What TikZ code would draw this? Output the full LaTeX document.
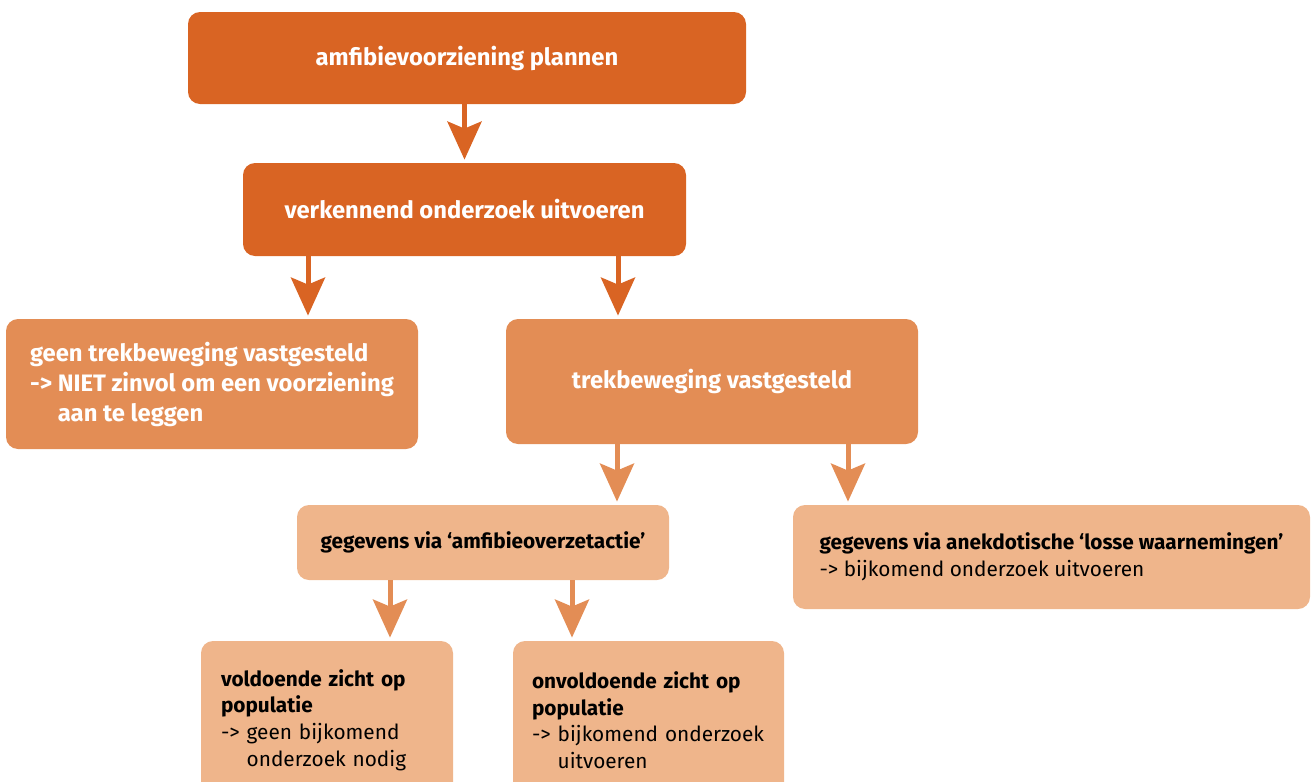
\documentclass[tikz,border=0pt]{standalone}
\usepackage{fontspec}
\setmainfont{Fira Sans}
\usetikzlibrary{arrows.meta}

\definecolor{oranjedonker}{RGB}{217,100,35}
\definecolor{oranjemidden}{RGB}{227,141,85}
\definecolor{oranjelicht}{RGB}{239,181,139}

\newcommand{\groot}{\fontsize{11.9}{15}\selectfont}
\newcommand{\klein}{\fontsize{10.4}{13.3}\selectfont}

\begin{document}
\begin{tikzpicture}[x=0.5pt, y=-0.5pt,
		blok/.style={rectangle, rounded corners=6pt, inner sep=0pt},
		donker/.style={blok, fill=oranjedonker, text=white, font=\groot\bfseries},
		midden/.style={blok, fill=oranjemidden, text=white, font=\groot\bfseries},
		licht/.style={blok, fill=oranjelicht, text=black, font=\klein},
		pijl/.style={-{Stealth[length=19pt, width=17pt, inset=3.5pt]}, line width=2.5pt, shorten >=1.5pt}]
		\useasboundingbox (0,0) rectangle (1314,782);

		\node[donker, minimum width=279pt, minimum height=46pt] (plannen) at (467,58) {amfibievoorziening plannen};
		\node[donker, minimum width=221.5pt, minimum height=46.5pt] (verkennend) at (464.5,209.5) {verkennend onderzoek uitvoeren};
		\node[midden, align=left, minimum width=206pt, minimum height=65pt] (geentrek) at (212,384) {geen trekbeweging vastgesteld\\-> NIET zinvol om een voorziening\\\phantom{->} aan te leggen};
		\node[midden, minimum width=206pt, minimum height=62.5pt] (trek) at (712,381.5) {trekbeweging vastgesteld};
		\node[licht, font=\klein\bfseries, minimum width=186pt, minimum height=37.5pt] (overzet) at (483,542.5) {gegevens via ‘amfibieoverzetactie’};
		\node[licht, align=left, minimum width=258.5pt, minimum height=52pt] (losse) at (1051.5,557) {\textbf{gegevens via anekdotische ‘losse waarnemingen’}\\-> bijkomend onderzoek uitvoeren};
		\node[licht, text width=106pt, align=left, inner xsep=10pt, minimum height=79pt] (voldoende) at (327,720) {\textbf{voldoende zicht op}\\\textbf{populatie}\\-> geen~bijkomend\\\phantom{->} onderzoek~nodig};
		\node[licht, text width=116.5pt, align=left, inner xsep=9.5pt, minimum height=79pt] (onvoldoende) at (648.5,720) {\textbf{onvoldoende zicht op}\\\textbf{populatie}\\-> bijkomend~onderzoek\\\phantom{->} uitvoeren};

		\coordinate (k1) at (308,0);
		\coordinate (k2) at (618,0);
		\coordinate (k3) at (617,0);
		\coordinate (k4) at (848,0);
		\coordinate (k5) at (390,0);
		\coordinate (k6) at (572,0);

		\draw[pijl, oranjedonker] (plannen.south -| verkennend.north) -- (verkennend.north);
		\draw[pijl, oranjedonker] (verkennend.south -| k1) -- (geentrek.north -| k1);
		\draw[pijl, oranjedonker] (verkennend.south -| k2) -- (trek.north -| k2);
		\draw[pijl, oranjemidden] (trek.south -| k3) -- (overzet.north -| k3);
		\draw[pijl, oranjemidden] (trek.south -| k4) -- (losse.north -| k4);
		\draw[pijl, oranjemidden] (overzet.south -| k5) -- (voldoende.north -| k5);
		\draw[pijl, oranjemidden] (overzet.south -| k6) -- (onvoldoende.north -| k6);
	\end{tikzpicture}
\end{document}
